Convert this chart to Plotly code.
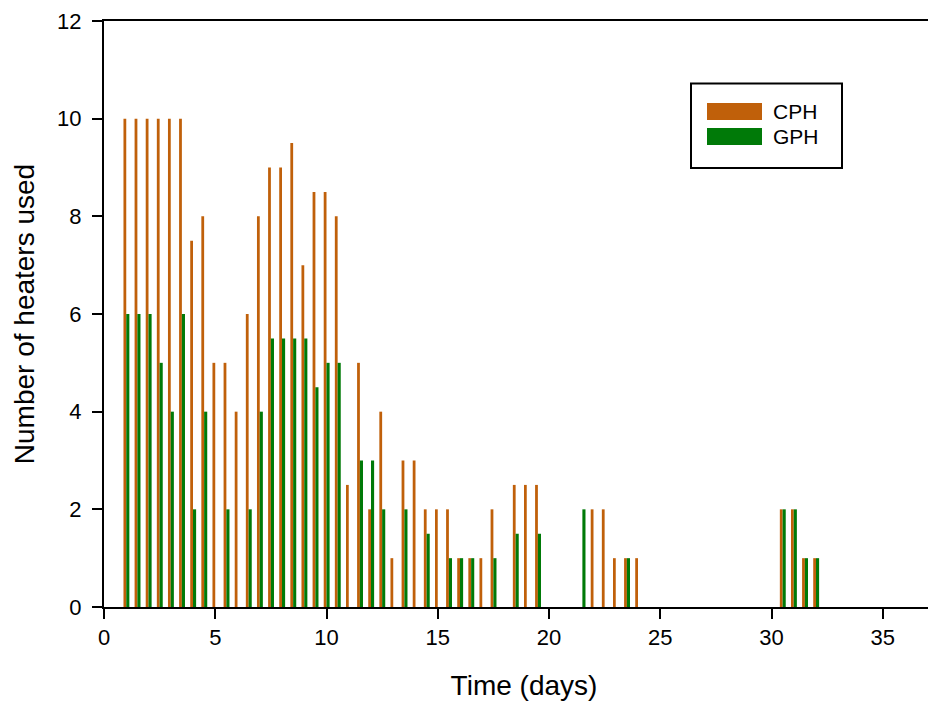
import plotly.graph_objects as go

# ---- data ----
time_days = [1.0, 1.5, 2.0, 2.5, 3.0, 3.5, 4.0, 4.5, 5.0, 5.5, 6.0, 6.5, 7.0, 7.5, 8.0, 8.5,
             9.0, 9.5, 10.0, 10.5, 11.0, 11.5, 12.0, 12.5, 13.0, 13.5, 14.0, 14.5, 15.0, 15.5,
             16.0, 16.5, 17.0, 17.5, 18.0, 18.5, 19.0, 19.5,
             21.5, 22.0, 22.5, 23.0, 23.5, 24.0,
             30.5, 31.0, 31.5, 32.0]
cph = [10, 10, 10, 10, 10, 10, 7.5, 8, 5, 5, 4, 6, 8, 9, 9, 9.5,
       7, 8.5, 8.5, 8, 2.5, 5, 2, 4, 1, 3, 3, 2, 2, 2,
       1, 1, 1, 2, 0, 2.5, 2.5, 2.5,
       0, 2, 2, 1, 1, 1,
       2, 2, 1, 1]
gph = [6, 6, 6, 5, 4, 6, 2, 4, 0, 2, 0, 2, 4, 5.5, 5.5, 5.5,
       5.5, 4.5, 5, 5, 0, 3, 3, 2, 0, 2, 0, 1.5, 0, 1,
       1, 1, 0, 1, 0, 1.5, 0, 1.5,
       2, 0, 0, 0, 1, 0,
       2, 2, 1, 1]
series_names = ["CPH", "GPH"]
x_ticks = [0, 5, 10, 15, 20, 25, 30, 35]
y_ticks = [0, 2, 4, 6, 8, 10, 12]

ORANGE = "#C0600A"
GREEN = "#007A08"
FONT = "Liberation Sans, Arial, sans-serif"

# page body has an 8px margin, so the figure is drawn offset by 8px
OFF = 8
FIG_W, FIG_H = 936, 693
L_SCR, T_SCR, B_SCR = 104, 21, 607      # plot area edges as seen on screen
L, T = L_SCR - OFF, T_SCR - OFF
W = FIG_W - L
H = B_SCR - T_SCR

fig = go.Figure()
fig.add_trace(go.Bar(x=time_days, y=cph, name=series_names[0], marker_color=ORANGE,
                     marker_line_width=0, width=0.125, offset=-0.125, showlegend=False))
fig.add_trace(go.Bar(x=time_days, y=gph, name=series_names[1], marker_color=GREEN,
                     marker_line_width=0, width=0.14, offset=0.0, showlegend=False))

# ---- manual legend box (paper coordinates, from screen pixels) ----
def px(xs):
    return (xs - L_SCR) / W
def py(ys):
    return (B_SCR - ys) / H

fig.add_shape(type="rect", xref="paper", yref="paper",
              x0=px(691), x1=px(842), y0=py(168), y1=py(83.5),
              line=dict(color="black", width=2), fillcolor="white")
for i, (name, col) in enumerate(zip(series_names, [ORANGE, GREEN])):
    y_top = 103 + i * 25
    fig.add_shape(type="rect", xref="paper", yref="paper",
                  x0=px(707), x1=px(762), y0=py(y_top + 17), y1=py(y_top),
                  line=dict(width=0), fillcolor=col)
    fig.add_annotation(xref="paper", yref="paper", x=px(771), y=py(y_top + 9),
                       text=name, showarrow=False, xanchor="left", yanchor="middle",
                       font=dict(family=FONT, size=21, color="black"))

x_span = W / 22.25  # days visible at ~22.25 px per day

fig.update_layout(
    width=FIG_W, height=FIG_H,
    margin=dict(l=L, r=0, t=T, b=FIG_H - T - H),
    paper_bgcolor="white", plot_bgcolor="white",
    barmode="overlay",
    font=dict(family=FONT, size=22, color="black"),
)
fig.update_xaxes(
    range=[0, x_span], tickvals=x_ticks, ticks="outside", ticklen=10, tickwidth=1.5,
    tickcolor="black", showline=True, linecolor="black", linewidth=2, mirror=True,
    showgrid=False, zeroline=False, tickfont=dict(size=22), automargin=False,
    title=dict(text="Time (days)", font=dict(size=28), standoff=26),
)
fig.update_yaxes(
    range=[0, 12], tickvals=y_ticks, ticks="outside", ticklen=10, tickwidth=1.5,
    tickcolor="black", showline=True, linecolor="black", linewidth=2, mirror=False,
    showgrid=False, zeroline=False, tickfont=dict(size=22), ticklabelstandoff=6,
    automargin=False,
    title=dict(text="Number of heaters used", font=dict(size=28), standoff=14),
)

fig.write_html("out.html")
